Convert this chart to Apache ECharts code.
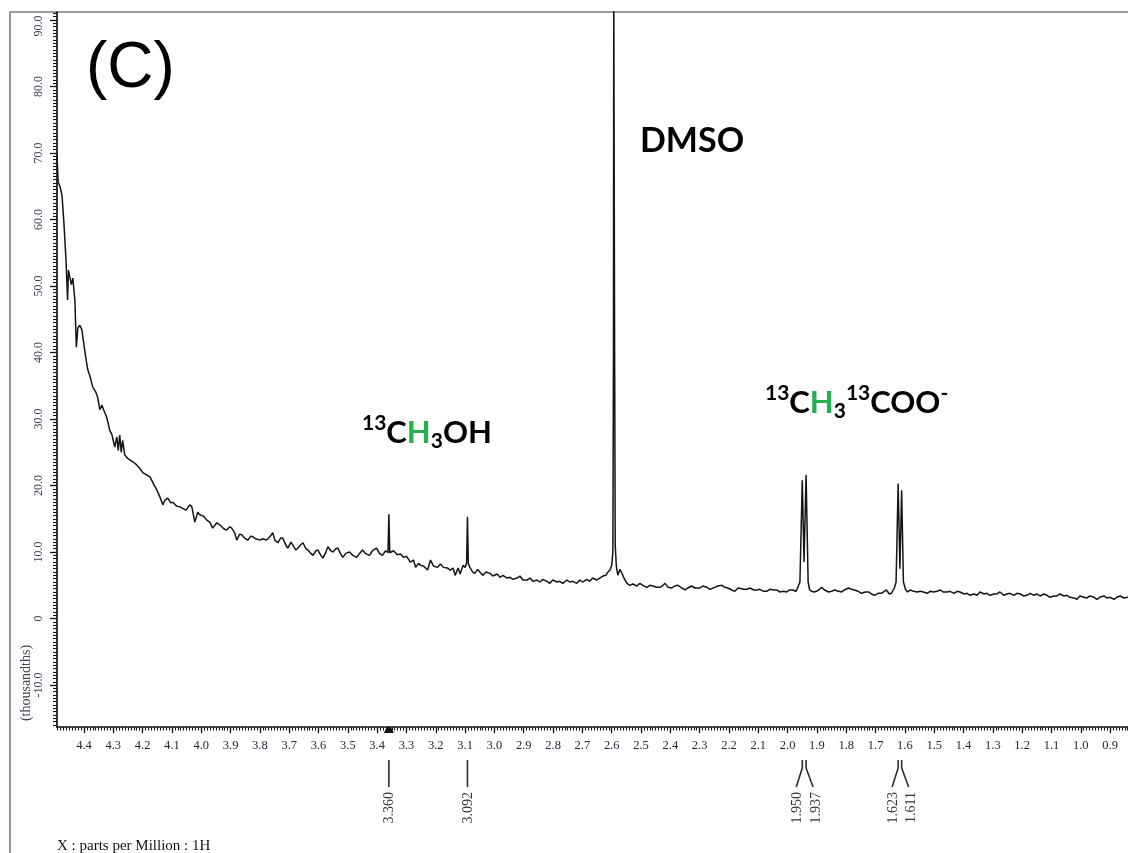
<!DOCTYPE html>
<html>
<head>
<meta charset="utf-8">
<script src="https://cdn.jsdelivr.net/npm/echarts@6/dist/echarts.min.js"></script>
<style>
  html, body { margin: 0; padding: 0; background: #ffffff; }
  #chart { width: 1128px; height: 853px; }
</style>
</head>
<body>
<div id="chart"></div>
<script>
// Chemical-shift tick labels (ppm) along the bottom axis
const xTickLabels = [4.4, 4.3, 4.2, 4.1, 4.0, 3.9, 3.8, 3.7, 3.6, 3.5, 3.4, 3.3, 3.2, 3.1, 3.0,
  2.9, 2.8, 2.7, 2.6, 2.5, 2.4, 2.3, 2.2, 2.1, 2.0, 1.9, 1.8, 1.7, 1.6, 1.5, 1.4, 1.3, 1.2, 1.1, 1.0, 0.9];

// Intensity tick labels (thousandths)
const yTickLabels = [-10, 0, 10, 20, 30, 40, 50, 60, 70, 80, 90];

// Picked peaks, grouped as they are annotated below the axis
const peakGroups = [[3.360], [3.092], [1.950, 1.937], [1.623, 1.611]];

// Cursor position marked on the shift axis
const cursorPpm = 3.360;

// 1H spectrum: [ppm, intensity (thousandths)]
const spectrumPoints = [
  [4.492, 69.7], [4.488, 65.6], [4.482, 65.0], [4.475, 63.7], [4.468, 59.2], [4.461, 53.6],
  [4.456, 47.9], [4.453, 52.4], [4.448, 52.7], [4.443, 50.2], [4.438, 51.2], [4.431, 47.9],
  [4.426, 40.8], [4.421, 43.7], [4.414, 44.1], [4.407, 43.4], [4.400, 41.1], [4.394, 39.3],
  [4.387, 37.4], [4.380, 36.5], [4.370, 34.8], [4.360, 34.1], [4.353, 33.2], [4.346, 31.4],
  [4.339, 32.1], [4.333, 31.4], [4.322, 30.2], [4.312, 28.3], [4.305, 27.7], [4.295, 25.8],
  [4.288, 27.3], [4.283, 25.3], [4.278, 27.6], [4.273, 25.0], [4.268, 26.8], [4.261, 24.6],
  [4.251, 24.1], [4.241, 23.8], [4.231, 23.5], [4.220, 23.1], [4.210, 22.6], [4.200, 22.0],
  [4.190, 21.7], [4.175, 21.3], [4.161, 20.1], [4.151, 19.3], [4.141, 18.3], [4.131, 17.1],
  [4.124, 17.8], [4.114, 18.1], [4.104, 17.4], [4.097, 17.5], [4.083, 16.9], [4.073, 16.8],
  [4.060, 16.5], [4.052, 16.3], [4.039, 17.1], [4.032, 16.8], [4.022, 14.5], [4.012, 16.0],
  [4.005, 15.6], [3.992, 15.4], [3.981, 14.8], [3.971, 14.5], [3.961, 13.6], [3.947, 14.4],
  [3.937, 14.1], [3.923, 13.5], [3.913, 13.3], [3.903, 13.8], [3.896, 13.6], [3.886, 12.9],
  [3.879, 11.8], [3.869, 12.7], [3.862, 12.6], [3.852, 12.1], [3.841, 11.8], [3.831, 12.4],
  [3.824, 12.3], [3.814, 12.0], [3.800, 11.8], [3.790, 12.0], [3.777, 11.8], [3.766, 12.3],
  [3.756, 12.9], [3.749, 11.8], [3.739, 11.4], [3.729, 12.1], [3.722, 12.1], [3.712, 11.1],
  [3.705, 10.6], [3.694, 11.5], [3.688, 11.5], [3.677, 10.3], [3.671, 10.0], [3.660, 11.1],
  [3.653, 11.4], [3.643, 10.5], [3.636, 10.3], [3.626, 9.8], [3.619, 9.5], [3.609, 10.2],
  [3.602, 10.3], [3.592, 9.5], [3.585, 9.1], [3.575, 10.0], [3.568, 10.8], [3.558, 10.2],
  [3.551, 10.0], [3.541, 10.5], [3.534, 10.6], [3.524, 9.7], [3.517, 9.2], [3.507, 9.8],
  [3.494, 10.0], [3.483, 9.5], [3.470, 9.2], [3.460, 9.8], [3.450, 10.3], [3.440, 9.8],
  [3.426, 9.5], [3.416, 10.2], [3.402, 10.6], [3.392, 9.8], [3.382, 9.5], [3.371, 10.2],
  [3.363, 9.9], [3.360, 15.7], [3.357, 9.9], [3.344, 10.2], [3.331, 9.6], [3.320, 9.7],
  [3.310, 9.2], [3.300, 9.4], [3.287, 8.5], [3.276, 8.8], [3.269, 7.7], [3.259, 8.3],
  [3.252, 8.0], [3.242, 7.9], [3.228, 7.3], [3.218, 8.8], [3.208, 7.9], [3.194, 7.7],
  [3.184, 8.2], [3.174, 7.7], [3.160, 7.6], [3.151, 7.3], [3.141, 7.6], [3.134, 6.5],
  [3.124, 7.6], [3.117, 6.7], [3.107, 8.0], [3.100, 7.7], [3.095, 8.3], [3.092, 15.3],
  [3.089, 8.3], [3.084, 7.7], [3.074, 7.0], [3.067, 6.8], [3.057, 7.4], [3.050, 7.0],
  [3.039, 6.5], [3.029, 7.0], [3.015, 6.8], [3.005, 6.4], [2.991, 6.7], [2.981, 6.2],
  [2.971, 6.5], [2.957, 6.1], [2.947, 6.2], [2.937, 5.9], [2.923, 6.1], [2.913, 6.4],
  [2.903, 5.8], [2.889, 5.8], [2.879, 6.1], [2.869, 5.6], [2.855, 5.8], [2.845, 5.5],
  [2.835, 5.9], [2.821, 5.6], [2.811, 5.3], [2.801, 5.8], [2.787, 5.5], [2.777, 5.6],
  [2.767, 5.3], [2.753, 5.8], [2.743, 5.5], [2.733, 5.6], [2.719, 5.3], [2.709, 5.8],
  [2.699, 5.5], [2.685, 5.9], [2.675, 5.6], [2.665, 6.1], [2.651, 5.8], [2.641, 6.1],
  [2.630, 6.4], [2.620, 6.5], [2.613, 7.0], [2.606, 7.3], [2.600, 8.0], [2.596, 10.0],
  [2.594, 40.0], [2.593, 96.0], [2.591, 96.0], [2.590, 40.0], [2.588, 11.0], [2.584, 7.8],
  [2.579, 6.5], [2.572, 7.4], [2.565, 6.8], [2.558, 6.1], [2.548, 5.3], [2.538, 5.0],
  [2.528, 5.2], [2.514, 4.9], [2.504, 5.3], [2.494, 5.0], [2.480, 4.7], [2.470, 5.0],
  [2.460, 4.9], [2.446, 4.7], [2.436, 4.7], [2.425, 5.0], [2.418, 5.3], [2.408, 4.7],
  [2.395, 4.6], [2.385, 4.9], [2.374, 5.0], [2.361, 4.6], [2.350, 4.3], [2.340, 4.6],
  [2.327, 4.9], [2.316, 4.6], [2.299, 4.6], [2.289, 4.9], [2.275, 4.7], [2.265, 4.4],
  [2.248, 4.7], [2.238, 4.9], [2.224, 5.0], [2.214, 4.7], [2.204, 4.6], [2.190, 4.3],
  [2.180, 4.1], [2.169, 4.6], [2.163, 4.7], [2.149, 4.4], [2.139, 4.4], [2.129, 4.6],
  [2.115, 4.3], [2.105, 4.3], [2.095, 4.4], [2.081, 4.1], [2.071, 4.1], [2.061, 4.4],
  [2.047, 4.3], [2.037, 4.3], [2.027, 4.0], [2.013, 4.1], [2.003, 4.0], [1.993, 4.3],
  [1.983, 4.3], [1.972, 4.1], [1.965, 4.7], [1.958, 5.5], [1.950, 20.8], [1.944, 8.5],
  [1.937, 21.6], [1.930, 5.5], [1.925, 4.3], [1.918, 4.1], [1.911, 4.0], [1.901, 4.1],
  [1.891, 4.4], [1.884, 4.7], [1.874, 4.3], [1.860, 4.0], [1.850, 4.1], [1.840, 4.3],
  [1.826, 4.1], [1.816, 4.0], [1.806, 4.3], [1.792, 4.6], [1.782, 4.4], [1.772, 4.3],
  [1.759, 4.1], [1.748, 3.8], [1.735, 4.0], [1.724, 4.0], [1.714, 3.7], [1.704, 3.5],
  [1.691, 3.8], [1.680, 3.8], [1.670, 4.1], [1.663, 4.3], [1.653, 3.7], [1.646, 3.8],
  [1.636, 4.6], [1.630, 5.5], [1.623, 20.3], [1.617, 7.5], [1.611, 19.3], [1.605, 5.5],
  [1.598, 4.4], [1.591, 4.0], [1.581, 4.3], [1.571, 4.1], [1.558, 4.0], [1.548, 4.1],
  [1.537, 4.0], [1.524, 3.8], [1.514, 4.1], [1.503, 4.0], [1.490, 4.1], [1.480, 4.3],
  [1.470, 4.0], [1.456, 4.0], [1.446, 4.1], [1.432, 3.8], [1.422, 4.1], [1.412, 4.0],
  [1.398, 3.7], [1.388, 3.8], [1.378, 3.5], [1.364, 3.7], [1.354, 3.5], [1.344, 4.0],
  [1.330, 3.7], [1.320, 3.8], [1.310, 3.5], [1.296, 3.7], [1.286, 3.7], [1.276, 4.0],
  [1.262, 3.5], [1.252, 3.7], [1.242, 3.8], [1.228, 3.5], [1.218, 3.8], [1.207, 3.7],
  [1.194, 3.4], [1.184, 3.5], [1.173, 3.8], [1.160, 3.5], [1.150, 3.7], [1.139, 3.4],
  [1.126, 3.7], [1.115, 3.5], [1.105, 3.2], [1.092, 3.4], [1.081, 3.4], [1.071, 3.7],
  [1.057, 3.4], [1.047, 3.5], [1.037, 3.2], [1.023, 3.1], [1.013, 2.9], [1.003, 3.4],
  [0.989, 3.2], [0.979, 3.1], [0.969, 3.4], [0.955, 3.2], [0.945, 2.9], [0.935, 3.2],
  [0.921, 3.4], [0.911, 3.1], [0.901, 3.2], [0.887, 2.9], [0.877, 3.2], [0.866, 3.4],
  [0.853, 3.1], [0.839, 3.2]
];

// Visible window of the spectrum
const X_MIN = 0.839, X_MAX = 4.492;
const Y_MIN = -16.3, Y_MAX = 91.2;

// Fine tick positions: every 0.01 ppm and every 0.5 thousandths
const xFineTicks = [];
for (let i = 84; i <= 449; i++) xFineTicks.push(i / 100);
const yFineTicks = [];
for (let i = -32; i <= 182; i++) yFineTicks.push(i / 2);

const AXIS_COLOR = '#151515';
const SERIF = '"Liberation Serif", "DejaVu Serif", serif';

const chart = echarts.init(document.getElementById('chart'), null, { renderer: 'canvas' });

const option = {
  animation: false,
  backgroundColor: '#ffffff',
  grid: { left: 57, right: 0, top: 12, bottom: 126 },
  xAxis: [
    {
      type: 'value', inverse: true, min: X_MIN, max: X_MAX, position: 'bottom',
      axisLine: { show: true, onZero: false, lineStyle: { color: AXIS_COLOR, width: 1.7 } },
      axisTick: { show: true, customValues: xTickLabels, length: 6, lineStyle: { color: AXIS_COLOR, width: 1.3 } },
      axisLabel: {
        customValues: xTickLabels, formatter: v => v.toFixed(1), margin: 12,
        fontFamily: SERIF, fontSize: 12.5, color: '#25253a'
      },
      splitLine: { show: false }
    },
    {
      type: 'value', inverse: true, min: X_MIN, max: X_MAX, position: 'bottom',
      axisLine: { show: false, onZero: false },
      axisTick: { show: true, customValues: xFineTicks, length: 3.5, lineStyle: { color: AXIS_COLOR, width: 1.1 } },
      axisLabel: { show: false },
      splitLine: { show: false }
    }
  ],
  yAxis: [
    {
      type: 'value', min: Y_MIN, max: Y_MAX, position: 'left',
      axisLine: { show: true, onZero: false, lineStyle: { color: AXIS_COLOR, width: 1.7 } },
      axisTick: { show: true, customValues: yTickLabels, length: 7, lineStyle: { color: AXIS_COLOR, width: 1.3 } },
      axisLabel: {
        customValues: yTickLabels, rotate: 90, margin: 12,
        // the topmost label is nudged down so it stays inside the frame
        formatter: v => (v === 0 ? '0' : (v === 90 ? '{top|90.0}' : v.toFixed(1))),
        rich: { top: { padding: [0, 12, 0, 0], fontFamily: SERIF, fontSize: 12, color: '#3e4258' } },
        fontFamily: SERIF, fontSize: 12, color: '#3e4258'
      },
      splitLine: { show: false }
    },
    {
      type: 'value', min: Y_MIN, max: Y_MAX, position: 'left',
      axisLine: { show: false, onZero: false },
      axisTick: { show: true, customValues: yFineTicks, length: 4, lineStyle: { color: AXIS_COLOR, width: 1.1 } },
      axisLabel: { show: false },
      splitLine: { show: false }
    }
  ],
  series: [
    {
      type: 'line', xAxisIndex: 0, yAxisIndex: 0,
      data: spectrumPoints,
      symbol: 'none', showSymbol: false, clip: true,
      lineStyle: { color: '#141414', width: 1.5 }
    }
  ]
};

chart.setOption(option);

// Annotations that depend on the axis scale
const toX = v => chart.convertToPixel({ xAxisIndex: 0 }, v);
const MARK_COLOR = '#2e2e2e';
const graphics = [];

function markLine(x1, y1, x2, y2) {
  graphics.push({
    type: 'line', silent: true,
    shape: { x1, y1, x2, y2 },
    style: { stroke: MARK_COLOR, lineWidth: 1.6 }
  });
}
function verticalText(text, x, yTop) {
  graphics.push({
    type: 'text', silent: true, x, y: yTop, rotation: Math.PI / 2,
    style: { text, align: 'right', verticalAlign: 'middle', font: '14px ' + SERIF, fill: '#333333' }
  });
}

peakGroups.forEach(group => {
  const xs = group.map(toX);
  if (group.length === 1) {
    markLine(xs[0], 760, xs[0], 787);
    verticalText(group[0].toFixed(3), xs[0] + 0.5, 792);
  } else {
    const spread = [-6, 7];
    const shift = [1, 3];
    xs.forEach((x, i) => {
      const end = x + spread[i];
      markLine(x, 760, x, 768);
      markLine(x, 768, end, 787);
      verticalText(group[i].toFixed(3), end + shift[i], 792);
    });
  }
});

// Cursor marker sitting on the shift axis
const cx = toX(cursorPpm);
graphics.push({
  type: 'polygon', silent: true,
  shape: { points: [[cx - 5, 733], [cx + 5, 733], [cx + 2, 727], [cx - 2, 727]] },
  style: { fill: '#111' }
});

// Outer frame
graphics.push({
  type: 'rect', silent: true,
  shape: { x: 10, y: 12, width: 1140, height: 860 },
  style: { fill: 'none', stroke: '#7d7d7d', lineWidth: 1.6 }
});

// Panel letter
graphics.push({
  type: 'text', silent: true, x: 86, y: 69,
  style: { text: '(C)', font: '64px "Liberation Sans", Arial, sans-serif', fill: '#000', verticalAlign: 'middle' }
});

// Axis captions
graphics.push({
  type: 'text', silent: true, x: 26, y: 683, rotation: Math.PI / 2,
  style: { text: '(thousandths)', align: 'center', verticalAlign: 'middle', font: '14px ' + SERIF, fill: '#3e4258' }
});
graphics.push({
  type: 'text', silent: true, x: 57, y: 846,
  style: { text: 'X : parts per Million : 1H', verticalAlign: 'middle', font: '15px ' + SERIF, fill: '#111' }
});

// Assignment labels
const LABEL_FONT = 'Lato, "Open Sans", sans-serif';
const GREEN = '#22b14c';
const chemRich = {
  m: { fontFamily: LABEL_FONT, fontWeight: 'bold', fontSize: 31, lineHeight: 39, fill: '#000' },
  g: { fontFamily: LABEL_FONT, fontWeight: 'bold', fontSize: 31, lineHeight: 39, fill: GREEN },
  s: { fontFamily: LABEL_FONT, fontWeight: 'bold', fontSize: 21, lineHeight: 22, verticalAlign: 'top', fill: '#000' },
  d: { fontFamily: LABEL_FONT, fontWeight: 'bold', fontSize: 21, lineHeight: 12, verticalAlign: 'bottom', fill: '#000' }
};
graphics.push({
  type: 'text', silent: true, x: 640, y: 141,
  style: { text: 'DMSO', font: 'bold 34px ' + LABEL_FONT, fill: '#000', verticalAlign: 'middle' }
});
graphics.push({
  type: 'text', silent: true, x: 362, y: 413,
  style: { text: '{s|13}{m|C}{g|H}{d|3}{m|OH}', rich: chemRich, verticalAlign: 'top' }
});
graphics.push({
  type: 'text', silent: true, x: 765, y: 383,
  style: { text: '{s|13}{m|C}{g|H}{d|3}{s|13}{m|COO}{s|-}', rich: chemRich, verticalAlign: 'top' }
});

chart.setOption({ graphic: graphics });
</script>
</body>
</html>
